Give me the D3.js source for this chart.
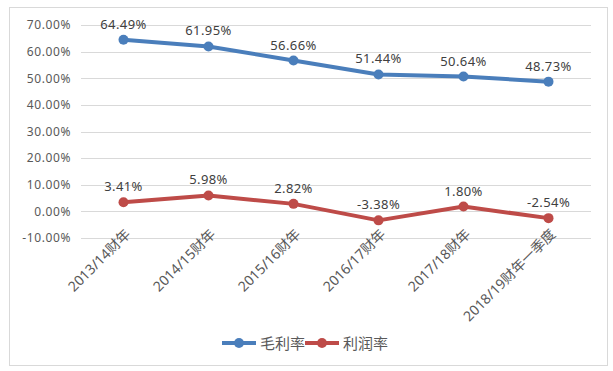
<!DOCTYPE html>
<html>
<head>
<meta charset="utf-8">
<script src="https://cdn.jsdelivr.net/npm/d3@7"></script>
<style>
  body { margin: 0; background: #fff; }
  svg text { font-family: "Noto Sans", "Noto Sans CJK SC", sans-serif; }
</style>
</head>
<body>
<div id="chart"></div>
<script>
// Chart data
var categories = ["2013/14财年", "2014/15财年", "2015/16财年", "2016/17财年", "2017/18财年", "2018/19财年一季度"];
var grossMargin = [64.49, 61.95, 56.66, 51.44, 50.64, 48.73];   // 毛利率
var profitMargin = [3.41, 5.98, 2.82, -3.38, 1.80, -2.54];      // 利润率
var yTicks = [-10, 0, 10, 20, 30, 40, 50, 60, 70];
var seriesNames = ["毛利率", "利润率"];

var width = 613, height = 371;
var blue = "#4a7ebb", red = "#be4b48";
var margin = { top: 25, right: 22, bottom: 133, left: 81 };

var svg = d3.select("#chart").append("svg")
    .attr("width", width)
    .attr("height", height);

// outer chart border
svg.append("rect")
    .attr("x", 9.5).attr("y", 7.5)
    .attr("width", 598).attr("height", 358)
    .attr("fill", "#fff")
    .attr("stroke", "#d9d9d9");

var x = d3.scaleBand()
    .domain(categories)
    .range([margin.left, width - margin.right]);

var y = d3.scaleLinear()
    .domain([-10, 70])
    .range([238, 25]);

// gridlines
svg.append("g")
    .selectAll("line")
    .data(yTicks)
    .join("line")
    .attr("x1", margin.left).attr("x2", width - margin.right)
    .attr("y1", d => Math.round(y(d)) + 0.5)
    .attr("y2", d => Math.round(y(d)) + 0.5)
    .attr("stroke", "#d9d9d9");

// y axis labels
var yAxis = svg.append("g")
    .attr("transform", `translate(${margin.left - 8}, 0)`)
    .call(d3.axisLeft(y).tickValues(yTicks).tickSize(0).tickFormat(d => d.toFixed(2) + "%"));
yAxis.select(".domain").remove();
yAxis.selectAll("text")
    .attr("fill", "#595959")
    .style("font-size", "12px")
    .style("letter-spacing", "0.6px")
    .attr("x", -2);

// x axis labels, rotated
svg.append("g")
    .selectAll("text")
    .data(categories)
    .join("text")
    .attr("transform", d => `translate(${x(d) + x.bandwidth() / 2 + 8}, 235) rotate(-45)`)
    .attr("text-anchor", "end")
    .attr("fill", "#595959")
    .style("font-size", "14px")
    .text(d => d);

var line = d3.line()
    .x((d, i) => x(categories[i]) + x.bandwidth() / 2)
    .y(d => y(d));

function drawSeries(values, color) {
    svg.append("path")
        .datum(values)
        .attr("fill", "none")
        .attr("stroke", color)
        .attr("stroke-width", 4)
        .attr("stroke-linejoin", "round")
        .attr("d", line);

    svg.append("g")
        .selectAll("circle")
        .data(values)
        .join("circle")
        .attr("cx", (d, i) => x(categories[i]) + x.bandwidth() / 2)
        .attr("cy", d => y(d))
        .attr("r", 5)
        .attr("fill", color);

    svg.append("g")
        .selectAll("text")
        .data(values)
        .join("text")
        .attr("x", (d, i) => x(categories[i]) + x.bandwidth() / 2)
        .attr("y", d => y(d) - 11)
        .attr("text-anchor", "middle")
        .attr("fill", "#404040")
        .style("font-size", "13px")
        .style("letter-spacing", "0.4px")
        .text(d => d.toFixed(2) + "%");
}

drawSeries(grossMargin, blue);
drawSeries(profitMargin, red);

// legend
var legend = svg.append("g").attr("transform", "translate(222, 343)");
var legendColors = [blue, red];
var legendX = [0, 83];
seriesNames.forEach(function (name, i) {
    var g = legend.append("g").attr("transform", `translate(${legendX[i]}, 0)`);
    g.append("line")
        .attr("x1", 0).attr("x2", 34)
        .attr("stroke", legendColors[i])
        .attr("stroke-width", 4);
    g.append("circle")
        .attr("cx", 17).attr("cy", 0).attr("r", 5)
        .attr("fill", legendColors[i]);
    g.append("text")
        .attr("x", 38).attr("y", 5.5)
        .attr("fill", "#595959")
        .style("font-size", "15px")
        .text(name);
});
</script>
</body>
</html>
